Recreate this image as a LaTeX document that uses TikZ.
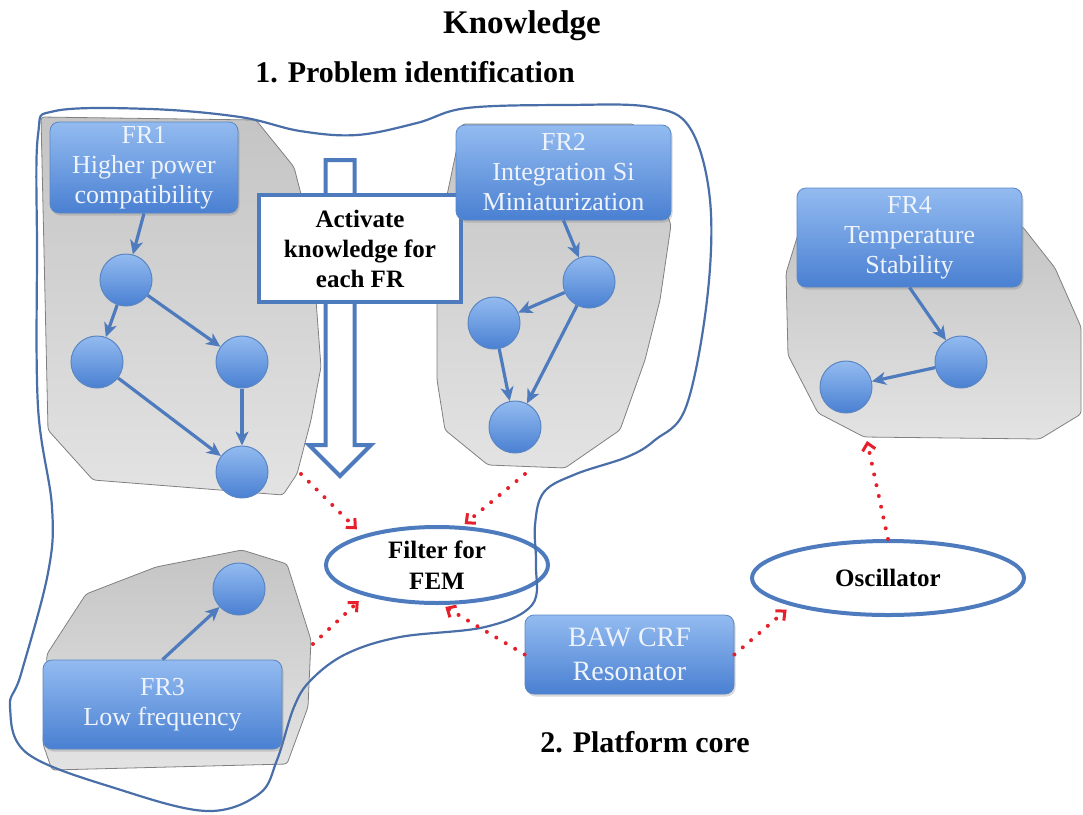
\documentclass[tikz,border=0pt]{standalone}
\usepackage{fontspec}
\setmainfont{Liberation Serif}
\usepackage{tikz}
\usetikzlibrary{arrows.meta,shapes,positioning,shadows,calc}
\definecolor{frtop}{HTML}{93BBF0}
\definecolor{frbot}{HTML}{4A80D2}
\definecolor{frline}{HTML}{5A86C4}
\definecolor{frtext}{HTML}{EEF3FC}
\definecolor{knline}{HTML}{4E7BBE}
\definecolor{hulline}{HTML}{4A6FA8}
\definecolor{dotred}{HTML}{E5202A}

\begin{document}
\begin{tikzpicture}[x=1pt,y=-1pt,
    frbox/.style={rectangle, rounded corners=9pt, draw=frline, line width=0.8pt,
      top color=frtop, bottom color=frbot, text=frtext, align=center, inner sep=2pt,
      font=\fontsize{26}{30}\selectfont,
      drop shadow={shadow xshift=1.5pt, shadow yshift=-2.5pt, opacity=.3}},
    kn/.style={circle, draw=frline, line width=1pt, top color=frtop, bottom color=frbot,
      minimum size=52pt, inner sep=0pt},
    kedge/.style={draw=knline, line width=3.2pt, -{Stealth[length=14pt,width=13pt,inset=4pt]}},
    zone/.style={draw=black!50, line width=0.8pt, top color=black!23, bottom color=black!11,
      rounded corners=3pt},
    goal/.style={ellipse, draw=knline, line width=4pt, fill=white, align=center,
      inner sep=0pt, font=\bfseries\fontsize{25}{31}\selectfont},
    note/.style={rectangle, draw=knline, line width=4pt, fill=white, align=center,
      font=\bfseries\fontsize{25}{30}\selectfont},
    link/.style={draw=dotred, line width=4pt, dash pattern=on 0pt off 11pt, line cap=round,
      -{Straight Barb[length=7pt,width=13pt,line width=3pt]}},
    headline/.style={anchor=base, font=\bfseries\fontsize{30}{34}\selectfont}]
  \useasboundingbox (0,0) rectangle (1083,814);

  \draw[zone] (41,117) -- (256,120) -- (294,167) -- (311,233) -- (321,367) -- (311,420)
    -- (297,474) -- (283,495) -- (93,480) -- (48,430) -- cycle;
  \draw[zone] (462,124) -- (634,124) -- (671,225) -- (660,300) -- (645,360) -- (620,430)
    -- (565,468) -- (488,465) -- (445,430) -- (437,380) -- (437,300) -- (446,200) -- cycle;
  \draw[zone] (800,228) -- (1022,226) -- (1055,268) -- (1081,327) -- (1081,414) -- (1040,439)
    -- (864,437) -- (818,413) -- (788,355) -- (786,273) -- cycle;
  \draw[zone] (47,654) -- (86,594) -- (156,567) -- (242,550) -- (287,564) -- (311,640)
    -- (308,707) -- (287,764) -- (52,770) -- (43,744) -- cycle;

  \coordinate (za) at (301,474);
  \coordinate (zb) at (525,474);
  \coordinate (zc) at (313,644);
  \coordinate (zd) at (867,441);

  \node[goal, minimum width=222pt, minimum height=76pt] (flt) at (437,565) {Filter for\\FEM};
  \node[goal, minimum width=272pt, minimum height=74pt] (osc) at (888,578) {Oscillator};

  \draw[hulline, line width=2.2pt] plot[smooth cycle, tension=0.6] coordinates {
    (38,135) (55,111) (150,109) (240,117) (300,131) (357,135) (417,123) (467,108)
    (567,105) (650,107) (690,128) (710,200) (707,300) (686,407) (655,440) (627,457)
    (576,474) (544,492) (535,525) (536,565) (532,605) (485,627) (400,637) (346,654)
    (311,680) (294,707) (277,760) (259,794) (207,811) (121,790) (28,754) (10,707)
    (21,674) (48,573) (52,507) (38,407) (37,250)};

  \draw[knline, line width=4pt, fill=white] (325.5,160) -- (354.5,160) -- (354.5,445)
    -- (371,445) -- (340,476) -- (309,445) -- (325.5,445) -- cycle;
  \node[note, minimum width=202pt, minimum height=107pt] (act) at (360,248.5)
    {Activate\\knowledge for\\each FR};

  \node[frbox, minimum width=188pt, minimum height=91pt] (fra) at (144,167.5)
    {FR1\\Higher power\\compatibility};
  \node[frbox, minimum width=215pt, minimum height=95pt] (frb) at (563.5,172.5)
    {FR2\\Integration Si\\Miniaturization};
  \node[frbox, minimum width=225pt, minimum height=99pt] (frd) at (909.5,237.5)
    {FR4\\Temperature\\Stability};
  \node[frbox, minimum width=239pt, minimum height=89pt] (frc) at (162.5,704.5)
    {FR3\\Low frequency};
  \node[frbox, minimum width=209pt, minimum height=79pt, font=\fontsize{28}{34}\selectfont]
    (baw) at (629.5,654.5) {BAW CRF\\Resonator};

  \node[kn] (aa) at (126,280) {};
  \node[kn] (ab) at (97,362) {};
  \node[kn] (ac) at (242,362) {};
  \node[kn] (ad) at (242,472) {};
  \node[kn] (ba) at (589,282) {};
  \node[kn] (bb) at (494,323) {};
  \node[kn] (bc) at (515,427) {};
  \node[kn] (ca) at (239,589) {};
  \node[kn] (da) at (961,362) {};
  \node[kn] (db) at (846,387) {};

  \draw (fra.south) edge[kedge] (aa)
    (aa) edge[kedge] (ab)
    (aa) edge[kedge] (ac)
    (ab) edge[kedge] (ad)
    (ac) edge[kedge] (ad);
  \draw (frb.south) edge[kedge] (ba)
    (ba) edge[kedge] (bb)
    (ba) edge[kedge] (bc)
    (bb) edge[kedge] (bc);
  \draw (frc.north) edge[kedge] (ca);
  \draw (frd.south) edge[kedge] (da)
    (da) edge[kedge] (db);

  \draw[link, shorten >=8pt] (za) -- (flt.158);
  \draw[link, shorten >=3pt] (zb) -- (flt.57);
  \draw[link, shorten >=8pt] (zc) -- (flt.203);
  \draw[link, shorten >=4pt] (baw.west) -- (flt.277);
  \draw[link, shorten >=6pt] (baw.east) -- (osc.196);
  \draw[link] (osc.north) -- (zd);

  \node[headline, font=\bfseries\fontsize{33}{36}\selectfont] (kw) at (522,33) {Knowledge};
  \node[headline] (pi) at (415,82) {1. Problem identification};
  \node[headline] (pc) at (645,752) {2. Platform core};
\end{tikzpicture}
\end{document}
